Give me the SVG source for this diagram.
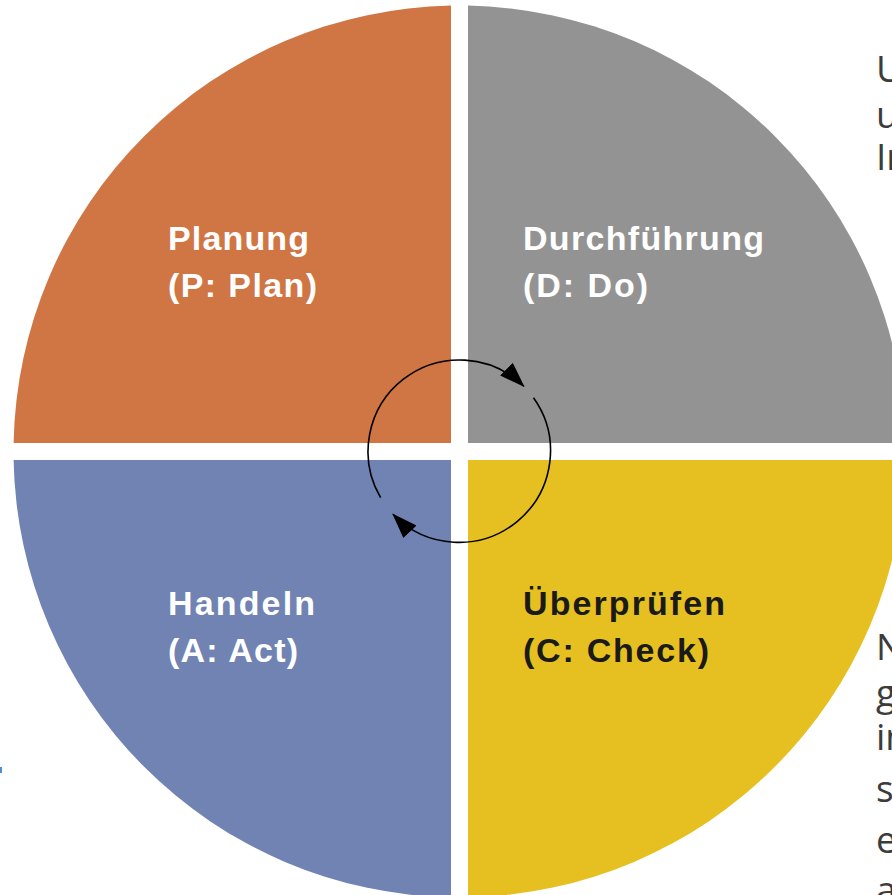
<svg xmlns="http://www.w3.org/2000/svg" width="892" height="895" viewBox="0 0 892 895">
<style>
.lbl{font-family:"Liberation Sans",Arial,sans-serif;font-weight:bold;font-size:34px;fill:#ffffff}
.dark{fill:#1a1a1a}
.side{font-family:"Open Sans","Liberation Sans",sans-serif;font-size:37px;fill:#3c3c3c}
.cyc{fill:none;stroke:#000;stroke-width:1.6}
</style>
<defs>
<marker id="ah" markerUnits="userSpaceOnUse" markerWidth="26" markerHeight="18" viewBox="0 0 24 17" refX="23" refY="8.5" orient="auto">
<path d="M0,0 L24,8.5 L0,17 Z" fill="#000"/>
</marker>
</defs>
<rect width="892" height="895" fill="#ffffff"/>
<g id="plan">
<path d="M451,443 L451,5.6 A446,446 0 0 0 13.6,443 Z" fill="#D07544"/>
<text class="lbl" x="168" y="250" textLength="141" lengthAdjust="spacing">Planung</text>
<text class="lbl" x="168" y="297" textLength="149" lengthAdjust="spacing">(P: Plan)</text>
</g>
<g id="do">
<path d="M468,443 L468,5.6 A446,446 0 0 1 905.4,443 Z" fill="#939393"/>
<text class="lbl" x="523" y="250" textLength="241" lengthAdjust="spacing">Durchführung</text>
<text class="lbl" x="523" y="297" textLength="125" lengthAdjust="spacing">(D: Do)</text>
</g>
<g id="act">
<path d="M451,460 L13.6,460 A446,446 0 0 0 451,897.4 Z" fill="#7083B2"/>
<text class="lbl" x="168" y="615" textLength="147" lengthAdjust="spacing">Handeln</text>
<text class="lbl" x="168" y="662" textLength="130" lengthAdjust="spacing">(A: Act)</text>
</g>
<g id="check">
<path d="M468,460 L468,897.4 A446,446 0 0 0 905.4,460 Z" fill="#E5C020"/>
<text class="lbl dark" x="523" y="615" textLength="202" lengthAdjust="spacing">Überprüfen</text>
<text class="lbl dark" x="523" y="662" textLength="186" lengthAdjust="spacing">(C: Check)</text>
</g>
<g id="connectors">
<path class="cyc" d="M380.6,497.7 A91.5,91.5 0 0 1 523.8,386.3" marker-end="url(#ah)"/>
<path class="cyc" d="M533.5,397.7 A91.5,91.5 0 0 1 393,514.2" marker-end="url(#ah)"/>
</g>
<g id="side-text">
<text class="side" x="876" y="82">U</text>
<text class="side" x="876" y="128">u</text>
<text class="side" x="876" y="170">In</text>
<text class="side" x="876" y="660">N</text>
<text class="side" x="876" y="706">g</text>
<text class="side" x="876" y="750">in</text>
<text class="side" x="876" y="802">s</text>
<text class="side" x="876" y="853">e</text>
<text class="side" x="876" y="903">a</text>
</g>
<rect x="0" y="767" width="2" height="6" fill="#4a8fd8"/>
</svg>
